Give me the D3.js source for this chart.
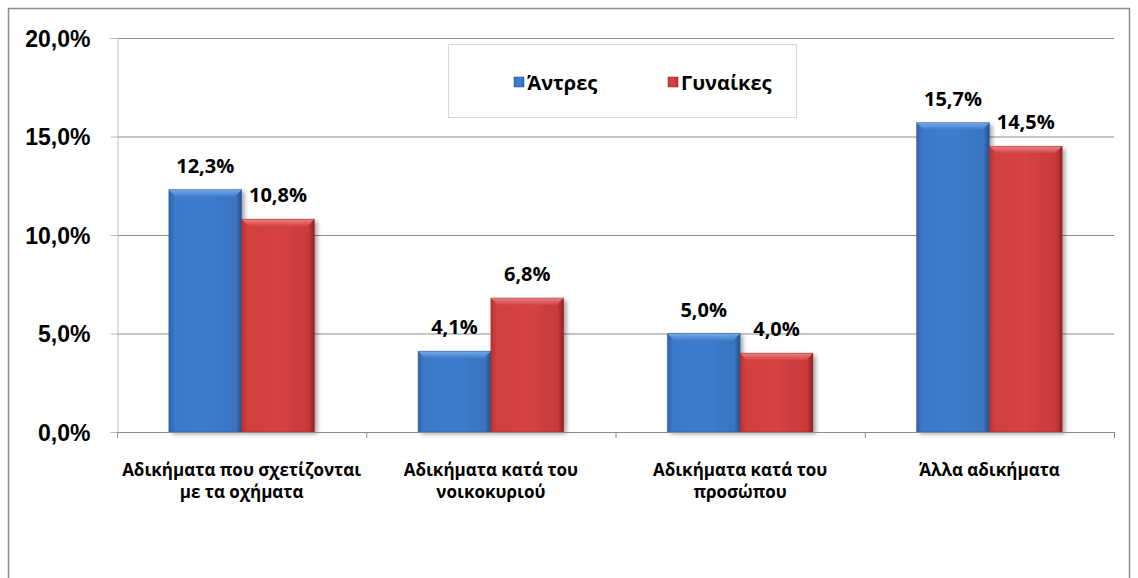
<!DOCTYPE html>
<html><head><meta charset="utf-8">
<script src="https://cdn.jsdelivr.net/npm/d3@7"></script>
<style>body{margin:0;background:#fff;} svg{display:block;font-family:"Open Sans",sans-serif;}</style>
</head><body>
<svg id="c" width="1138" height="578"></svg>
<script>
const categories = [["Αδικήματα που σχετίζονται","με τα οχήματα"],["Αδικήματα κατά του","νοικοκυριού"],["Αδικήματα κατά του","προσώπου"],["Άλλα αδικήματα"]];
const seriesNames = ["Άντρες","Γυναίκες"];
const men = [12.3, 4.1, 5.0, 15.7];
const women = [10.8, 6.8, 4.0, 14.5];
const yTicks = [0,5,10,15,20];

const svg = d3.select("#c");
const m = {l:117, r:1114, t:38, b:432};
svg.append("rect").attr("x",8.5).attr("y",8.5).attr("width",1121).attr("height",600).attr("fill","none").attr("stroke","#8c8c8c").attr("stroke-width",1.5);

const x = d3.scaleBand().domain(d3.range(categories.length)).range([m.l,m.r]).paddingInner(0.416).paddingOuter(0.208);
const xs = d3.scaleBand().domain([0,1]).range([0,x.bandwidth()]);
const y = d3.scaleLinear().domain([0,20]).range([m.b,m.t]);

const defs = svg.append("defs");
function grad(id, stops, vertical){
  const g = defs.append("linearGradient").attr("id",id).attr("x1",0).attr("y1",0).attr("x2",vertical?0:1).attr("y2",vertical?1:0);
  stops.forEach(s=>g.append("stop").attr("offset",s[0]).attr("stop-color",s[1]));
}
grad("gb",[[0,"#2f64ad"],[0.08,"#3b79c9"],[0.5,"#3d7dcf"],[0.92,"#3a74c0"],[1,"#23508f"]]);
grad("gr",[[0,"#b83232"],[0.08,"#d23f3f"],[0.5,"#d64242"],[0.92,"#c83a3a"],[1,"#8e2222"]]);
grad("gbt",[[0,"#7fb0ec"],[1,"#3d7dcf"]],true);
grad("grt",[[0,"#ef8a8a"],[1,"#d64242"]],true);
const filt = defs.append("filter").attr("id","sh").attr("x","-20%").attr("y","-20%").attr("width","150%").attr("height","150%");
filt.append("feDropShadow").attr("dx",3).attr("dy",2).attr("stdDeviation",2).attr("flood-color","#000").attr("flood-opacity",0.35);

svg.append("g").selectAll("line").data(yTicks.filter(d=>d>0)).join("line")
  .attr("x1",m.l).attr("x2",m.r).attr("y1",d=>y(d)+0.5).attr("y2",d=>y(d)+0.5)
  .attr("stroke","#8c8c8c").attr("stroke-width",1);

const yAxis = d3.axisLeft(y).tickValues(yTicks).tickSize(7).tickPadding(20)
  .tickFormat(d=>d3.format(".1f")(d).replace(".",",")+"%");
const ya = svg.append("g").attr("transform",`translate(${m.l+0.5},0)`).call(yAxis);
ya.select(".domain").attr("stroke","#bfbfbf");
ya.selectAll(".tick line").attr("stroke","#bfbfbf");
ya.selectAll("text").attr("font-size",23).attr("font-weight","bold").attr("fill","#000").attr("dy","0.35em");

const colors = [["url(#gb)","url(#gbt)"],["url(#gr)","url(#grt)"]];
const data = [];
categories.forEach((c,i)=>{ data.push({i,s:0,v:men[i]}); data.push({i,s:1,v:women[i]}); });
const bars = svg.append("g").selectAll("g").data(data).join("g")
  .attr("transform",d=>`translate(${x(d.i)+xs(d.s)},0)`);
bars.append("rect").attr("x",0).attr("y",d=>y(d.v)).attr("width",xs.bandwidth()).attr("height",d=>y(0)-y(d.v))
  .attr("fill",d=>colors[d.s][0]).attr("filter","url(#sh)");
bars.append("path").attr("d",d=>{const w=xs.bandwidth(), t=y(d.v), b=7; return `M0,${t}L${w},${t}L${w-b},${t+b}L${b},${t+b}Z`;})
  .attr("fill",d=>colors[d.s][1]).attr("opacity",0.9);
bars.append("rect").attr("x",0).attr("y",d=>y(d.v)).attr("width",xs.bandwidth()).attr("height",d=>y(0)-y(d.v))
  .attr("fill","none").attr("stroke",d=>d.s?"#9a2a2a":"#2c5a99").attr("stroke-width",0.8).attr("stroke-opacity",0.6);

svg.append("g").selectAll("text").data(data).join("text")
  .attr("x",d=>x(d.i)+xs(d.s)+xs.bandwidth()/2).attr("y",d=>y(d.v)-17)
  .attr("text-anchor","middle").attr("font-size",20).attr("font-weight","bold").attr("fill","#000")
  .text(d=>d3.format(".1f")(d.v).replace(".",",")+"%");

svg.append("line").attr("x1",m.l).attr("x2",m.r).attr("y1",m.b+0.5).attr("y2",m.b+0.5).attr("stroke","#8c8c8c");
const bounds = d3.range(categories.length+1).map(i=>m.l+i*(m.r-m.l)/categories.length);
svg.append("g").selectAll("line").data(bounds).join("line")
  .attr("x1",d=>d+0.5).attr("x2",d=>d+0.5).attr("y1",m.b).attr("y2",m.b+6).attr("stroke","#8c8c8c");
const xl = svg.append("g").selectAll("text").data(categories).join("text")
  .attr("x",(d,i)=>x(i)+x.bandwidth()/2).attr("y",476)
  .attr("text-anchor","middle").attr("font-size",17).attr("font-weight","bold").attr("fill","#000");
xl.selectAll("tspan").data(d=>d).join("tspan").attr("x",function(){return this.parentNode.getAttribute("x");})
  .attr("dy",(d,j)=>j?22:0).text(d=>d);

const lg = svg.append("g");
lg.append("rect").attr("x",448.5).attr("y",44.5).attr("width",348).attr("height",73).attr("fill","#fff").attr("stroke","#d9d9d9");
const lx = [514,668];
seriesNames.forEach((n,i)=>{
  lg.append("rect").attr("x",lx[i]).attr("y",77).attr("width",10).attr("height",10).attr("fill",colors[i][0]).attr("stroke",i?"#8e2222":"#23508f").attr("stroke-width",0.5);
  lg.append("text").attr("x",lx[i]+13).attr("y",90).attr("font-size",20).attr("font-weight","bold").attr("fill","#000").text(n);
});
</script>
</body></html>
